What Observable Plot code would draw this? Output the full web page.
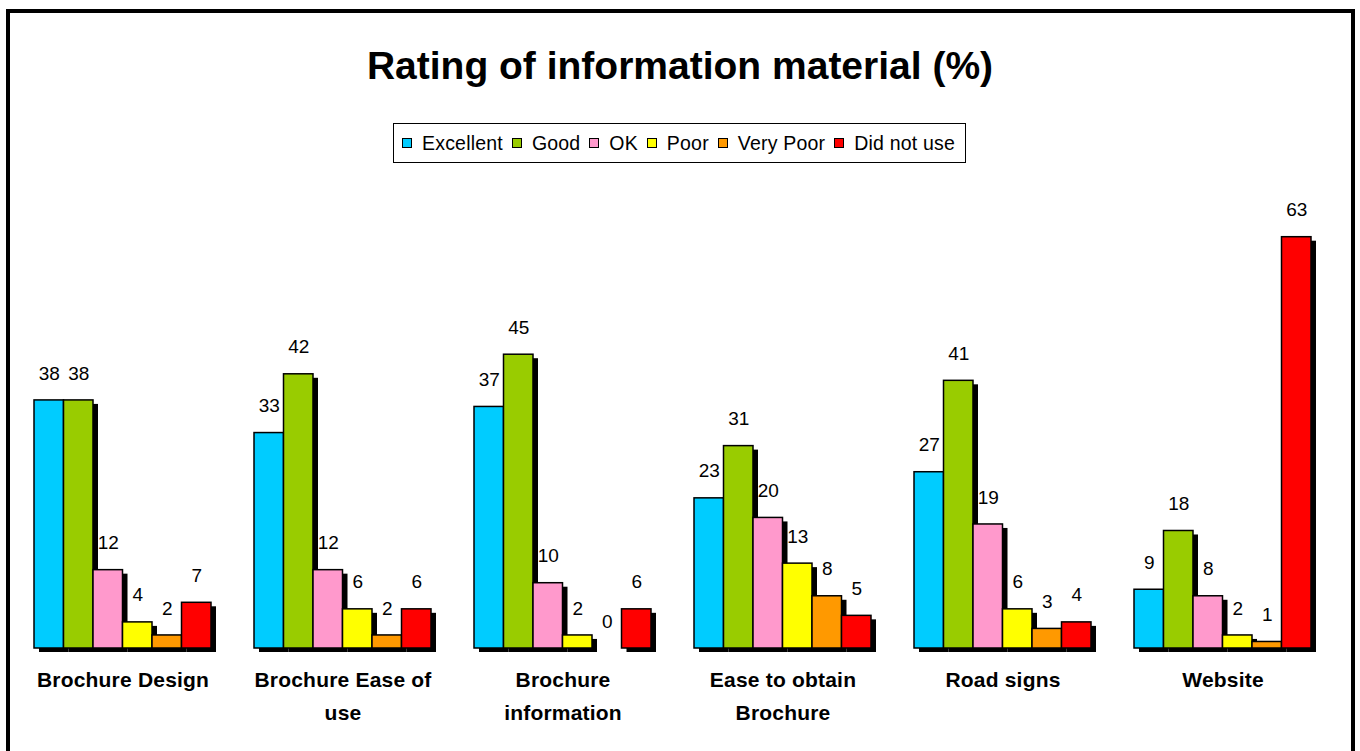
<!DOCTYPE html>
<html>
<head>
<meta charset="utf-8">
<script src="https://cdn.jsdelivr.net/npm/d3@7"></script>
<script src="https://cdn.jsdelivr.net/npm/@observablehq/plot@0.6"></script>
<style>
  html, body { margin: 0; padding: 0; background: #fff; }
  #wrap { position: relative; width: 1360px; height: 751px; overflow: hidden; font-family: "Liberation Sans", Arial, sans-serif; }
  #frame { position: absolute; left: 6px; top: 9px; width: 1349px; height: 800px; border: 4px solid #000; box-sizing: border-box; }
  #title { position: absolute; left: 0; width: 1360px; top: 46px; text-align: center; font-size: 39px; font-weight: bold; color: #000; line-height: 1; }
  #legend { position: absolute; left: 393px; top: 123px; width: 573px; height: 40px; border: 1px solid #000; box-sizing: border-box; display: flex; align-items: center; justify-content: space-between; padding: 0 10px 0 8px; font-size: 19.5px; letter-spacing: 0.2px; color: #000; background: #fff; }
  .item { display: flex; align-items: center; }
  .sw { width: 8px; height: 8px; border: 1px solid #000; margin-right: 10px; }
  #chart { position: absolute; left: 0; top: 180px; }
  #chart svg text.lbl, #chart svg g[aria-label="fx-axis tick label"] text { letter-spacing: 0.2px; }
</style>
</head>
<body>
<div id="wrap">
  <div id="frame"></div>
  <div id="title"></div>
  <div id="legend"></div>
  <div id="chart"></div>
</div>
<script>
const titleText = "Rating of information material (%)";
const categories = ["Brochure Design", "Brochure Ease of use", "Brochure information", "Ease to obtain Brochure", "Road signs", "Website"];
const categoryLabels = ["Brochure Design", "Brochure Ease of\nuse", "Brochure\ninformation", "Ease to obtain\nBrochure", "Road signs", "Website"];
const ratings = ["Excellent", "Good", "OK", "Poor", "Very Poor", "Did not use"];
const colors = ["#00CCFF", "#99CC00", "#FF99CC", "#FFFF00", "#FF9900", "#FF0000"];
const excellent = [38, 33, 37, 23, 27, 9];
const good = [38, 42, 45, 31, 41, 18];
const ok = [12, 12, 10, 20, 19, 8];
const poor = [4, 6, 2, 13, 6, 2];
const veryPoor = [2, 2, 0, 8, 3, 1];
const didNotUse = [7, 6, 6, 5, 4, 63];

const series = [excellent, good, ok, poor, veryPoor, didNotUse];
const data = [];
categories.forEach((c, i) => {
  ratings.forEach((r, j) => data.push({category: c, rating: r, value: series[j][i]}));
});
const labelOf = Object.fromEntries(categories.map((c, i) => [c, categoryLabels[i]]));

document.getElementById("title").textContent = titleText;
const legend = document.getElementById("legend");
ratings.forEach((r, j) => {
  const it = document.createElement("div");
  it.className = "item";
  const sw = document.createElement("div");
  sw.className = "sw";
  sw.style.background = colors[j];
  const t = document.createElement("span");
  t.textContent = r;
  it.appendChild(sw); it.appendChild(t);
  legend.appendChild(it);
});

const chart = Plot.plot({
  width: 1360,
  height: 571,
  marginLeft: 34,
  marginRight: 49,
  marginTop: 11,
  marginBottom: 103,
  style: {fontFamily: "'Liberation Sans', Arial, sans-serif", background: "transparent", overflow: "visible"},
  fx: {domain: categories, paddingInner: 43 / 220, paddingOuter: 0, round: false, label: null},
  x: {domain: ratings, padding: 0, round: false, axis: null},
  y: {domain: [0, 70], axis: null},
  color: {domain: ratings, range: colors},
  marks: [
    Plot.barY(data, {fx: "category", x: "rating", y: "value", fill: "black", dx: 5, dy: 4, inset: 0}),
    Plot.barY(data, {fx: "category", x: "rating", y: "value", fill: "rating", stroke: "black", strokeWidth: 1.5, inset: 0}),
    Plot.text(data, {fx: "category", x: "rating", y: "value", text: d => String(d.value), dy: -27, fontSize: 19, fill: "black"}),
    Plot.axisFx({anchor: "bottom", tickSize: 0, tickPadding: 15, fontSize: 21, fontWeight: "bold", lineHeight: 1.57, tickFormat: d => labelOf[d], label: null})
  ]
});
document.getElementById("chart").appendChild(chart);
</script>
</body>
</html>
